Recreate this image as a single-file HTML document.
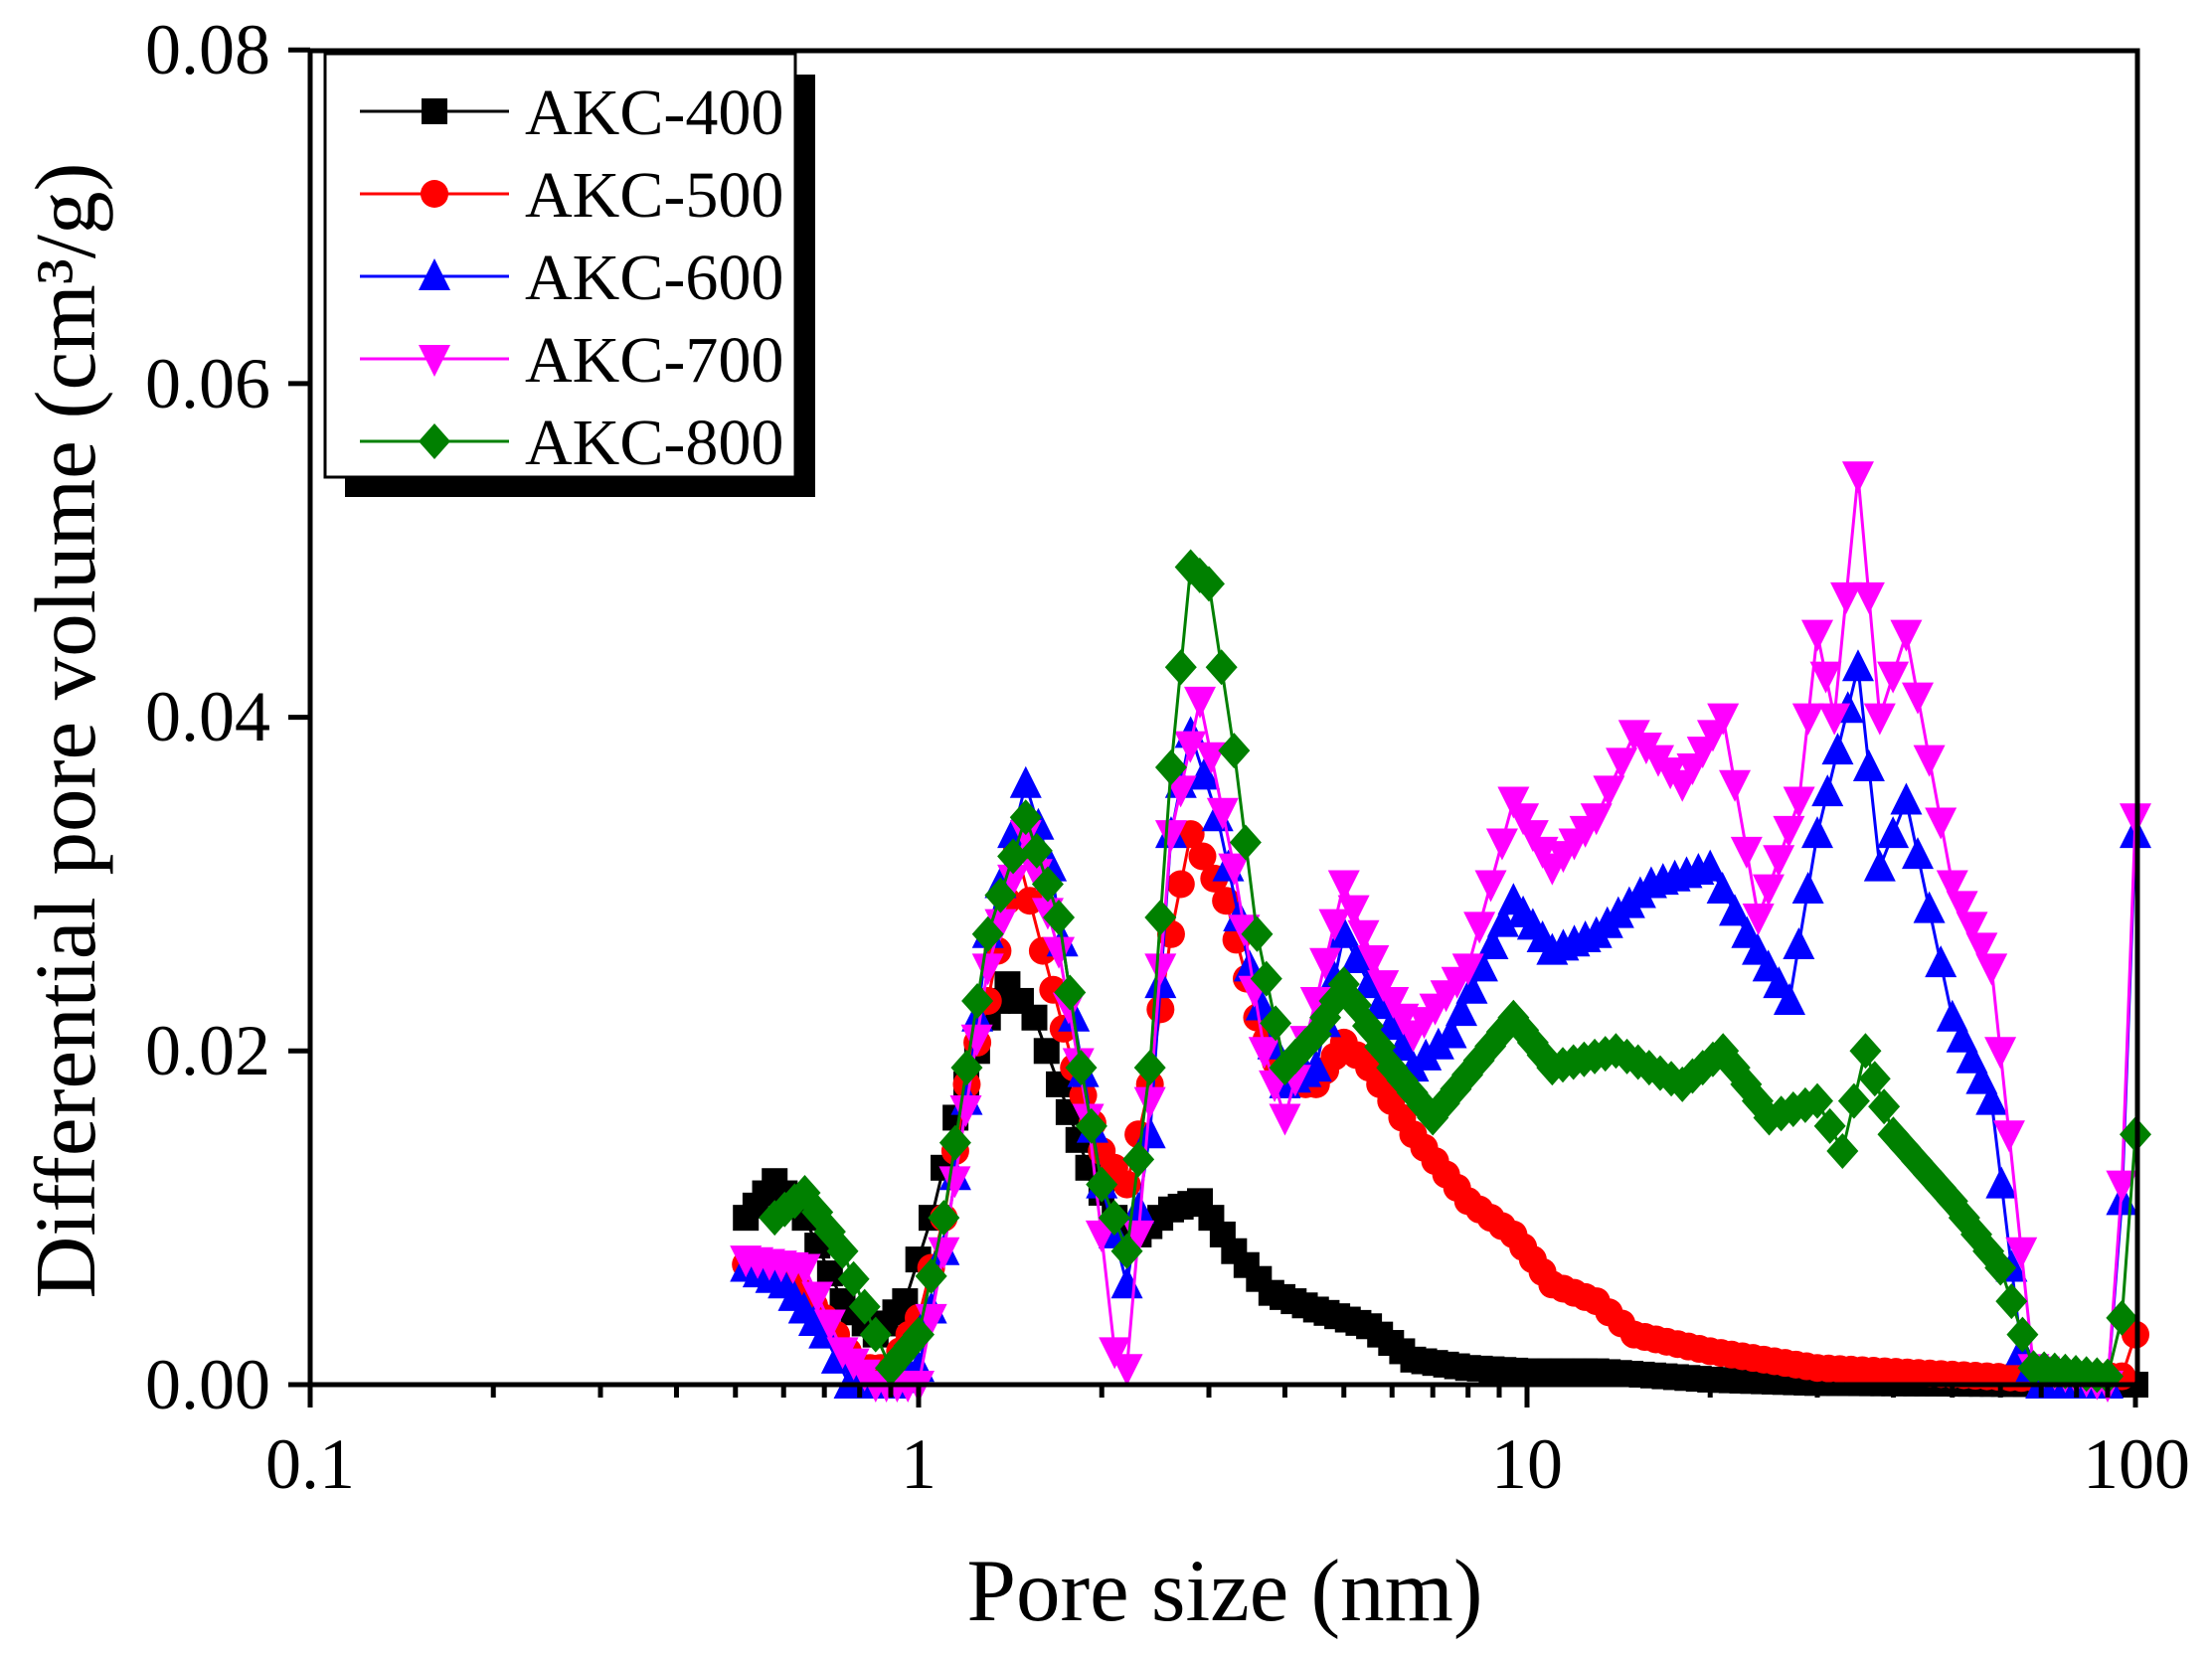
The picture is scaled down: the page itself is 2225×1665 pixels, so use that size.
<!DOCTYPE html>
<html><head><meta charset="utf-8"><style>html,body{margin:0;padding:0;background:#fff}svg{display:block}</style></head>
<body>
<svg id="s" width="2225" height="1665" xmlns="http://www.w3.org/2000/svg" font-family="Liberation Serif, serif">
<rect width="2225" height="1665" fill="#fff"/>
<g id="data"></g>
<rect x="312" y="51" width="1838" height="1342" fill="none" stroke="#000" stroke-width="5"/>
<g id="axes" stroke="#000" stroke-width="5"></g>
<g font-size="72" text-anchor="end" fill="#000">
<text x="272" y="1417">0.00</text>
<text x="272" y="1081">0.02</text>
<text x="272" y="745">0.04</text>
<text x="272" y="410">0.06</text>
<text x="272" y="74">0.08</text>
</g>
<g font-size="72" text-anchor="middle" fill="#000">
<text x="312" y="1497">0.1</text>
<text x="924" y="1497">1</text>
<text x="1536" y="1497">10</text>
<text x="2149" y="1497">100</text>
</g>
<text x="1232" y="1630" font-size="89" text-anchor="middle">Pore size (nm)</text>
<text transform="translate(95,735) rotate(-90)" font-size="87" text-anchor="middle">Differential pore volume (cm³/g)</text>
<rect x="347" y="75" width="473" height="425" fill="#000"/>
<rect x="327" y="54" width="473" height="426" fill="#fff" stroke="#000" stroke-width="3"/>
<g id="leg"></g>
</svg>
<script>
const L=312,D=612,B=1393,K=16785;
const X=x=>L+D*(Math.log10(x)+1), Y=v=>B-v*K;
const ax=document.getElementById('axes');let a='';
for(let d=-1;d<2;d++)for(let m=1;m<10;m++){const x=X(Math.pow(10,d)*m);a+=`<line x1="${x}" y1="1393" x2="${x}" y2="${m==1?1416:1406}"/>`;}
a+=`<line x1="${X(100)}" y1="1393" x2="${X(100)}" y2="1416"/>`;
for(let i=0;i<5;i++){const y=B-i*335.7;a+=`<line x1="290" y1="${y}" x2="312" y2="${y}"/>`;}
ax.innerHTML=a;
const S=[
['#000','sq',[[0.52,.010],[0.58,.0122],[0.65,.010],[0.75,.005],[0.85,.003],[0.95,.005],[1.05,.010],[1.15,.016],[1.3,.022],[1.4,.024],[1.55,.022],[1.7,.018],[1.9,.013],[2.1,.010],[2.3,.009],[2.6,.0105],[2.9,.011],[3.3,.008],[3.8,.0055],[4.5,.0045],[5.5,.0035],[6.5,.0015],[8,.001],[10,.0008],[13,.0008],[20,.0003],[30,.0001],[100,0]]],
['#f00','ci',[[0.52,.0072],[0.6,.007],[0.7,.004],[0.8,.001],[0.9,.001],[1.0,.004],[1.1,.01],[1.2,.018],[1.3,.023],[1.45,.032],[1.6,.026],[1.8,.019],[2.0,.014],[2.2,.012],[2.4,.018],[2.6,.027],[2.8,.033],[3.2,.029],[3.6,.022],[4.0,.018],[4.5,.018],[5,.0205],[5.5,.019],[6.5,.015],[8,.011],[9.5,.009],[11,.006],[13,.005],[15,.003],[20,.002],[30,.001],[50,.0006],[65,.0004],[95,.0005],[100,.003]]],
['#00f','up',[[0.52,.007],[0.6,.006],[0.7,.003],[0.77,0],[0.9,0],[1.0,.001],[1.1,.008],[1.2,.017],[1.3,.027],[1.5,.036],[1.65,.031],[1.8,.022],[2.0,.012],[2.2,.006],[2.4,.015],[2.6,.033],[2.8,.039],[3.1,.034],[3.5,.025],[4.0,.018],[4.5,.019],[5,.027],[5.5,.024],[6.5,.019],[7.5,.021],[9.5,.029],[11,.026],[13,.027],[16,.030],[20,.031],[23,.027],[27,.023],[30,.033],[35,.043],[38,.031],[42,.035],[50,.022],[58,.017],[65,.002],[70,0],[90,0],[95,.011],[100,.033]]],
['#f0f','dn',[[0.52,.0075],[0.65,.007],[0.75,.002],[0.85,0],[1.0,0],[1.1,.008],[1.3,.025],[1.5,.033],[1.7,.026],[1.9,.016],[2.1,.002],[2.2,.001],[2.4,.017],[2.6,.033],[2.9,.041],[3.3,.031],[3.7,.02],[4.0,.016],[4.5,.023],[5,.030],[5.8,.024],[6.5,.021],[8,.025],[9.5,.035],[11,.031],[13,.034],[15,.039],[18,.036],[21,.040],[24,.028],[28,.035],[30,.045],[32,.040],[35,.0545],[38,.040],[42,.045],[50,.030],[58,.025],[62,.015],[68,.001],[90,0],[95,.012],[100,.034]]],
['#008000','di',[[0.58,.010],[0.65,.0115],[0.75,.008],[0.85,.003],[0.9,.001],[1.0,.003],[1.1,.010],[1.2,.019],[1.3,.027],[1.5,.034],[1.7,.028],[1.85,.019],[2.0,.012],[2.2,.008],[2.4,.019],[2.6,.037],[2.8,.049],[3.0,.048],[3.3,.038],[3.6,.027],[4,.019],[4.5,.021],[5,.024],[6,.019],[7,.016],[9.5,.022],[11,.019],[14,.020],[18,.018],[21,.020],[25,.016],[30,.017],[33,.014],[36,.020],[40,.015],[50,.011],[60,.007],[68,.001],[90,.0005],[95,.004],[100,.015]]]];
function mk(t,x,y,c){const r=14;
if(t=='sq')return `<rect x="${x-r+1}" y="${y-r+1}" width="${2*r-2}" height="${2*r-2}" fill="${c}"/>`;
if(t=='ci')return `<circle cx="${x}" cy="${y}" r="${r}" fill="${c}"/>`;
if(t=='up')return `<polygon points="${x},${y-r-4} ${x-r-2},${y+r} ${x+r+2},${y+r}" fill="${c}"/>`;
if(t=='dn')return `<polygon points="${x},${y+r+4} ${x-r-2},${y-r} ${x+r+2},${y-r}" fill="${c}"/>`;
return `<polygon points="${x},${y-r-4} ${x+r+2},${y} ${x},${y+r+4} ${x-r-2},${y}" fill="${c}"/>`;}
let h='';
for(const [c,t,p] of S){
 const pts=[];
 for(let i=0;i<p.length-1;i++){const a0=Math.log10(p[i][0]),a1=Math.log10(p[i+1][0]);const n=Math.max(1,Math.round((a1-a0)/0.018));
  for(let k=0;k<n;k++){const f=k/n;pts.push([L+D*(a0+(a1-a0)*f+1),Y(p[i][1]+(p[i+1][1]-p[i][1])*f)]);}}
 const e=p[p.length-1];pts.push([X(e[0]),Y(e[1])]);
 h+=`<polyline points="${pts.map(q=>q.join(',')).join(' ')}" fill="none" stroke="${c}" stroke-width="3"/>`;
 for(const q of pts)h+=mk(t,q[0],q[1],c);}
document.getElementById('data').innerHTML=h;
let g='';S.forEach((s,i)=>{const y=112+i*83;g+=`<line x1="362" y1="${y}" x2="512" y2="${y}" stroke="${s[0]}" stroke-width="3"/>`+mk(s[1],437,y,s[0])+`<text x="528" y="${y+23}" font-size="66">AKC-${4+i}00</text>`;});
document.getElementById('leg').innerHTML=g;
</script>
</body></html>
